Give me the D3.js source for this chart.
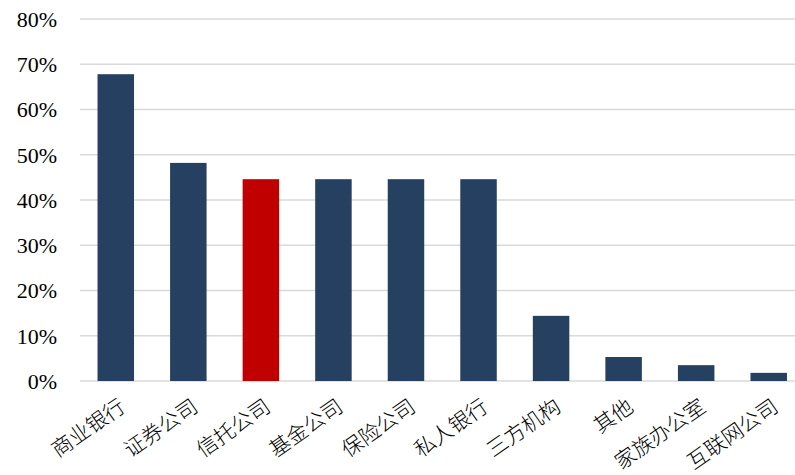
<!DOCTYPE html>
<html>
<head>
<meta charset="utf-8">
<script src="https://cdn.jsdelivr.net/npm/d3@7"></script>
<style>
  body { margin: 0; background: #fff; }
  svg { display: block; }
</style>
</head>
<body>
<svg id="chart" width="795" height="475"></svg>
<script>
// data
var categories = ["商业银行", "证券公司", "信托公司", "基金公司", "保险公司",
    "私人银行", "三方机构", "其他", "家族办公室", "互联网公司"];
var values = [0.678, 0.482, 0.446, 0.446, 0.446, 0.446, 0.144, 0.053, 0.035, 0.018];
var highlight = ["信托公司"];
var yTicks = [0, 0.1, 0.2, 0.3, 0.4, 0.5, 0.6, 0.7, 0.8];

var svg = d3.select("#chart");

var x = d3.scaleBand()
    .domain(categories)
    .range([79.5, 805])
    .paddingInner(0.497)
    .paddingOuter(0.2485);

var y = d3.scaleLinear()
    .domain([0, 0.8])
    .range([381, 19]);

// gridlines
svg.append("g")
    .selectAll("line")
    .data(yTicks)
    .enter()
    .append("line")
    .attr("x1", 80)
    .attr("x2", 795)
    .attr("y1", function(d) { return y(d); })
    .attr("y2", function(d) { return y(d); })
    .attr("stroke", "#d9d9d9")
    .attr("stroke-width", 1.5);

// y axis labels
var yAxis = d3.axisLeft(y)
    .tickValues(yTicks)
    .tickSize(0)
    .tickPadding(0)
    .tickFormat(d3.format(".0%"));

svg.append("g")
    .attr("transform", "translate(57,0)")
    .call(yAxis)
    .call(function(g) { g.select(".domain").remove(); })
    .selectAll("text")
    .attr("font-family", "'Liberation Serif', 'Times New Roman', serif")
    .attr("font-size", 22)
    .attr("fill", "#000")
    .attr("dy", "0.34em");

// bars
svg.append("g")
    .selectAll("rect")
    .data(categories)
    .enter()
    .append("rect")
    .attr("x", function(d) { return x(d); })
    .attr("width", x.bandwidth())
    .attr("y", function(d, i) { return y(values[i]); })
    .attr("height", function(d, i) { return y(0) - y(values[i]); })
    .attr("fill", function(d) {
        return highlight.includes(d) ? "#c00000" : "#264061";
    });

// x axis labels, rotated
svg.append("g")
    .selectAll("text")
    .data(categories)
    .enter()
    .append("text")
    .attr("transform", function(d) {
        return "translate(" + (x(d) + x.bandwidth() / 2 + 2) + ",397) rotate(-35)";
    })
    .attr("text-anchor", "end")
    .attr("dy", "0.75em")
    .attr("font-family", "'Noto Sans CJK SC', serif")
    .attr("font-size", 21)
    .attr("font-weight", 300)
    .attr("fill", "#000")
    .text(function(d) { return d; });
</script>
</body>
</html>
